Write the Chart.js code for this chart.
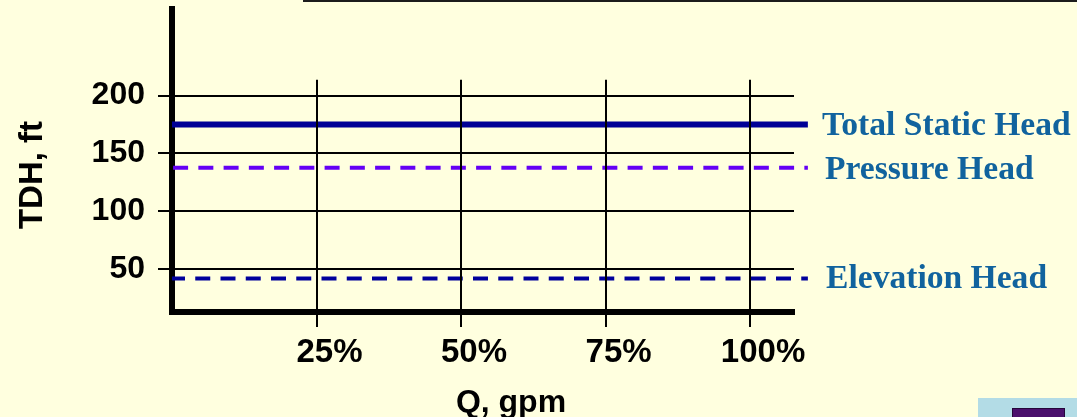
<!DOCTYPE html>
<html>
<head>
<meta charset="utf-8">
<title>Static head components</title>
<script src="https://cdn.jsdelivr.net/npm/chart.js@4.4.0/dist/chart.umd.min.js"></script>
<style>
  html, body { margin: 0; padding: 0; background: #FFFFDF; }
  #wrap { position: relative; width: 1077px; height: 417px; overflow: hidden; background: #FFFFDF; }
  #c { position: absolute; left: 0; top: 0; }
  #rule { position: absolute; left: 303px; top: 0; width: 774px; height: 2px; background: #1c1c1c; }
  #badge { position: absolute; left: 978px; top: 398px; width: 99px; height: 19px; background: #B3DCE6; }
  #badge i { position: absolute; left: 34px; top: 10px; width: 51px; height: 12px; background: #4A0F6C; border: 1px solid #25063a; }
</style>
</head>
<body>
<div id="wrap">
  <canvas id="c" width="1077" height="417"></canvas>
  <div id="rule"></div>
  <div id="badge"><i></i></div>
</div>
<script>
// Flow extent of the head lines (percent of design flow)
const flowPct = [0, 110];
// Head components, ft
const totalStaticHead = [175, 175];
const pressureHead = [137.5, 137.5];
const elevationHead = [41.5, 41.5];
// Axis ticks
const headTicks = [50, 100, 150, 200];
const flowTicks = [25, 50, 75, 100];
const flowTickLabels = ['25%', '50%', '75%', '100%'];
const seriesNames = ['Total Static Head', 'Pressure Head', 'Elevation Head'];

const toPoints = (heads) => flowPct.map((q, i) => ({ x: q, y: heads[i] }));

const SANS = '"Liberation Sans", Arial, sans-serif';
const SERIF = '"Liberation Serif", "Times New Roman", serif';
const GRID_TOP = 213.6;  // vertical grid lines stop just above the 200 ft line

const decor = {
  id: 'decor',
  afterDatasetsDraw(chart) {
    const { ctx, chartArea, scales: { x, y } } = chart;
    const top = y.getPixelForValue(GRID_TOP);
    ctx.save();
    ctx.strokeStyle = '#000';
    ctx.lineWidth = 2;
    flowTicks.forEach(v => {
      const px = Math.round(x.getPixelForValue(v));
      ctx.beginPath();
      ctx.moveTo(px, top);
      ctx.lineTo(px, chartArea.bottom);
      ctx.stroke();
    });
    ctx.restore();
  },
  afterDraw(chart) {
    const { ctx, scales: { y } } = chart;
    ctx.save();
    // series names beside the line ends
    const heads = [totalStaticHead[1], pressureHead[1], elevationHead[1]];
    const lx = [822, 825, 826];
    const dy = [11, 11, 9];
    ctx.fillStyle = '#11639E';
    ctx.font = 'bold 33.6px ' + SERIF;
    ctx.textAlign = 'left';
    ctx.textBaseline = 'alphabetic';
    seriesNames.forEach((name, i) => {
      ctx.fillText(name, lx[i], y.getPixelForValue(heads[i]) + dy[i]);
    });
    // axis titles
    ctx.fillStyle = '#000';
    ctx.font = 'bold 32px ' + SANS;
    ctx.textAlign = 'center';
    ctx.fillText('Q, gpm', 511, 411.5);
    ctx.translate(42, 175);
    ctx.rotate(-Math.PI / 2);
    ctx.font = 'bold 33px ' + SANS;
    ctx.fillText('TDH, ft', 0, 0);
    ctx.restore();
  }
};

const lineBase = { pointRadius: 0, pointHoverRadius: 0, tension: 0, fill: false, clip: false, borderCapStyle: 'butt' };

const noEdgePadding = s => { s.paddingTop = 0; s.paddingBottom = 0; s.paddingLeft = 0; s.paddingRight = 0; };

new Chart(document.getElementById('c'), {
  type: 'line',
  data: {
    datasets: [
      Object.assign({ label: seriesNames[0], data: toPoints(totalStaticHead), borderColor: '#000096', borderWidth: 6 }, lineBase),
      Object.assign({ label: seriesNames[1], data: toPoints(pressureHead), borderColor: '#6400F5', borderWidth: 4, borderDash: [15, 10.25], borderDashOffset: -1.1 }, lineBase),
      Object.assign({ label: seriesNames[2], data: toPoints(elevationHead), borderColor: '#00009C', borderWidth: 4, borderDash: [15, 10.25], borderDashOffset: 2 }, lineBase)
    ]
  },
  options: {
    responsive: false,
    animation: false,
    events: [],
    layout: { padding: { left: 0, top: 9, right: 283, bottom: 0 } },
    plugins: { legend: { display: false }, tooltip: { enabled: false }, title: { display: false } },
    scales: {
      x: {
        type: 'linear',
        min: 0,
        max: 107.6,
        z: 1,
        afterBuildTicks: s => { s.ticks = flowTicks.map(v => ({ value: v })); },
        afterFit: s => { s.height = 105; noEdgePadding(s); },
        grid: { display: true, drawOnChartArea: false, drawTicks: true, tickLength: 15, color: '#000', lineWidth: 2 },
        border: { display: true, color: '#000', width: 6 },
        ticks: {
          color: '#000',
          font: { family: SANS, size: 33, weight: 'bold' },
          padding: 6,
          labelOffset: 13,
          maxRotation: 0,
          autoSkip: false,
          callback: (v, i) => flowTickLabels[i]
        }
      },
      y: {
        type: 'linear',
        min: 12.5,
        max: 275,
        z: 1,
        afterBuildTicks: s => { s.ticks = headTicks.map(v => ({ value: v })); },
        afterFit: s => { s.width = 172; noEdgePadding(s); },
        grid: { display: true, drawOnChartArea: true, drawTicks: true, tickLength: 14, color: '#000', lineWidth: 2 },
        border: { display: true, color: '#000', width: 6 },
        ticks: {
          color: '#000',
          font: { family: SANS, size: 32, weight: 'bold' },
          padding: 13,
          autoSkip: false
        }
      }
    }
  },
  plugins: [decor]
});
</script>
</body>
</html>
